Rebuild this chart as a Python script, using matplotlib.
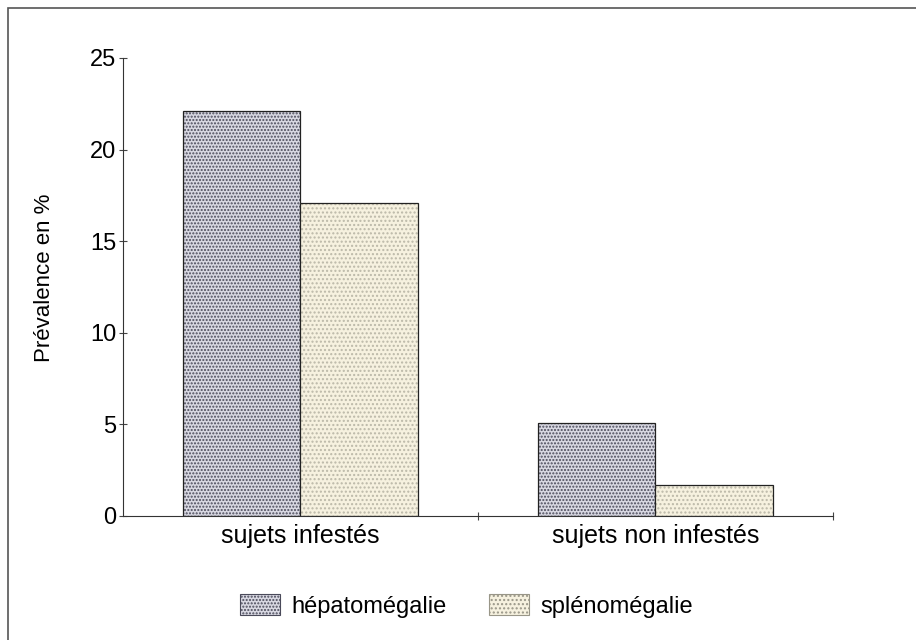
import matplotlib.pyplot as plt
import matplotlib.patches as mpatches
import numpy as np

plt.rcParams['font.family'] = ['Liberation Sans', 'DejaVu Sans']

categories = ['sujets infestés', 'sujets non infestés']
hepato = [22.1, 5.1]
spleno = [17.1, 1.7]
series_names = ['hépatomégalie', 'splénomégalie']

fig = plt.figure(figsize=(9.16, 6.4), dpi=100)
ax = fig.add_axes([0.1343, 0.1938, 0.775, 0.7156])

# outer frame around the whole chart
fig.patches.append(mpatches.Rectangle((0.009, -0.1), 1.2, 1.088, transform=fig.transFigure,
                                      fill=False, edgecolor='#555555', linewidth=1.2))

x = np.arange(len(categories))
w = 0.33
plt.rcParams['hatch.linewidth'] = 1.0
ax.bar(x - w / 2, hepato, w, facecolor='#d8d8e2', edgecolor='#4a4a5a', hatch='.....',
       linewidth=0, label=series_names[0])
ax.bar(x - w / 2, hepato, w, facecolor='none', edgecolor='#222222', linewidth=0.9)
ax.bar(x + w / 2, spleno, w, facecolor='#f6f1df', edgecolor='#bbb8a8', hatch='....',
       linewidth=0, label=series_names[1])
ax.bar(x + w / 2, spleno, w, facecolor='none', edgecolor='#222222', linewidth=0.9)

ax.set_xlim(-0.5, 1.5)
ax.set_ylim(0, 25)
ax.set_yticks([0, 5, 10, 15, 20, 25])
ax.set_xticks([0.5, 1.5])
ax.set_xticklabels([])
ax.set_xticks(x, minor=True)
ax.set_xticklabels(categories, minor=True, fontsize=18)
ax.tick_params(axis='x', which='minor', length=0, pad=6)
ax.tick_params(axis='x', which='major', direction='inout', length=6, width=0.8, color='#444444')
ax.tick_params(axis='y', direction='inout', length=6, width=0.8, labelsize=17, pad=2,
               color='#444444')
ax.spines['top'].set_visible(False)
ax.spines['right'].set_visible(False)
ax.spines['left'].set_color('#333333')
ax.spines['bottom'].set_color('#333333')
ax.set_ylabel('Prévalence en %', fontsize=16)
ax.yaxis.set_label_coords(-0.096, 0.52)

h1 = mpatches.Patch(facecolor='#d8d8e2', edgecolor='#4a4a5a', hatch='.....', linewidth=0.8)
h2 = mpatches.Patch(facecolor='#f6f1df', edgecolor='#999688', hatch='....', linewidth=0.8)
fig.legend([h1, h2], series_names, loc='center', bbox_to_anchor=(0.509, 0.053), ncol=2,
           frameon=False, fontsize=17, handlelength=1.7, handleheight=0.95, columnspacing=1.8,
           handletextpad=0.47)

fig.savefig('out.png', dpi=100)
